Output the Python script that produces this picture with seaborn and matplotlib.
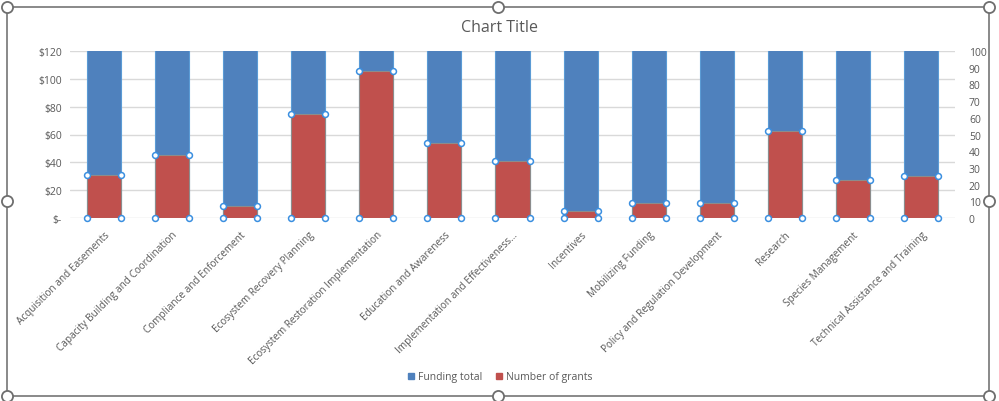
import matplotlib
matplotlib.use("Agg")
import matplotlib.pyplot as plt
import seaborn as sns
import numpy as np
from matplotlib.patches import Rectangle
from matplotlib.lines import Line2D

categories = [
    "Acquisition and Easements",
    "Capacity Building and Coordination",
    "Compliance and Enforcement",
    "Ecosystem Recovery Planning",
    "Ecosystem Restoration Implementation",
    "Education and Awareness",
    "Implementation and Effectiveness…",
    "Incentives",
    "Mobilizing Funding",
    "Policy and Regulation Development",
    "Research",
    "Species Management",
    "Technical Assistance and Training",
]
# Funding totals exceed the $120 axis maximum (bars are clipped at the top)
funding_total = [450, 600, 300, 900, 1500, 700, 500, 200, 250, 260, 800, 400, 420]
number_of_grants = [26, 38, 7, 62, 88, 45, 34, 4, 9, 9, 52, 23, 25]

left_ticks = [0, 20, 40, 60, 80, 100, 120]
left_labels = ["$-", "$20", "$40", "$60", "$80", "$100", "$120"]
right_ticks = list(range(0, 101, 10))

BLUE = "#4F81BD"
RED = "#C0504D"
TXT = "#595959"
GRID = "#D9D9D9"
HANDLE = "#3B8FE0"

sns.set_style("white")
plt.rcParams["font.family"] = ["Open Sans", "DejaVu Sans"]

fig = plt.figure(figsize=(9.99, 4.02), dpi=100)
ax = fig.add_axes([70 / 999, 1 - 219 / 402, (955 - 70) / 999, (219 - 52) / 402])

sns.barplot(x=categories, y=funding_total, color=BLUE, ax=ax, width=0.5,
            saturation=1, edgecolor="#5B9BD5", linewidth=0.8, zorder=2)
ax.set_ylim(0, 120)
ax.set_yticks(left_ticks)
ax.set_yticklabels(left_labels, color=TXT, fontsize=7.5)
ax.grid(axis="y", color=GRID, linewidth=1, zorder=0)
ax.set_axisbelow(True)
for s in ax.spines.values():
    s.set_visible(False)
ax.tick_params(axis="both", length=0, pad=6)
ax.set_xlabel("")
ax.set_ylabel("")
ax.set_xticks(range(len(categories)))
ax.set_xticklabels(categories, rotation=45, ha="right", rotation_mode="anchor",
                   color=TXT, fontsize=7.2)
ax.tick_params(axis="x", pad=8)

ax2 = ax.twinx()
sns.barplot(x=categories, y=number_of_grants, color=RED, ax=ax2, width=0.5,
            saturation=1, edgecolor="#8C8C8C", linewidth=0.8, zorder=3)
ax2.set_ylim(0, 100)
ax2.set_yticks(right_ticks)
ax2.set_yticklabels([str(t) for t in right_ticks], color=TXT, fontsize=7.5)
ax2.tick_params(axis="y", length=0, pad=10)
ax2.set_ylabel("")
for s in ax2.spines.values():
    s.set_visible(False)

# selection handles on the grant bars
xs = np.arange(len(categories))
hx = np.concatenate([xs - 0.25, xs + 0.25, xs - 0.25, xs + 0.25])
hy = np.concatenate([number_of_grants, number_of_grants,
                     np.zeros(len(xs)), np.zeros(len(xs))])
ax2.scatter(hx, hy, s=18, facecolor="white", edgecolor=HANDLE, linewidth=1.1,
            zorder=5, clip_on=False)
ax2.set_ylim(0, 100)
ax.set_xlim(-0.5, len(categories) - 0.5)

fig.text(0.5, 1 - 28 / 402, "Chart Title", ha="center", va="center",
         fontsize=11.5, color=TXT)

handles = [Line2D([0], [0], marker="s", linestyle="", markersize=5,
                  markerfacecolor=BLUE, markeredgecolor=BLUE),
           Line2D([0], [0], marker="s", linestyle="", markersize=5,
                  markerfacecolor=RED, markeredgecolor=RED)]
leg = fig.legend(handles, ["Funding total", "Number of grants"], loc="center",
                 bbox_to_anchor=(0.5, 1 - 378 / 402), ncol=2, frameon=False,
                 fontsize=7.5, handlelength=0.8, handletextpad=0.3,
                 columnspacing=1.2)
for t in leg.get_texts():
    t.set_color(TXT)

# chart frame and handles
W, H = 999, 402
fx0, fx1, fy0, fy1 = 7 / W, 989 / W, 1 - 397 / H, 1 - 8 / H
fig.patches.append(Rectangle((fx0, fy0), fx1 - fx0, fy1 - fy0,
                             transform=fig.transFigure, fill=False,
                             edgecolor="#767676", linewidth=1.2, zorder=0))
for px, py in [(7, 8), (498, 8), (989, 8), (7, 202), (989, 202),
               (7, 397), (498, 397), (989, 397)]:
    fig.add_artist(Line2D([px / W], [1 - py / H], marker="o", markersize=8,
                          markerfacecolor="white", markeredgecolor="#6E6E6E",
                          markeredgewidth=1.3, transform=fig.transFigure,
                          linestyle=""))

fig.savefig("out.png", dpi=100)
